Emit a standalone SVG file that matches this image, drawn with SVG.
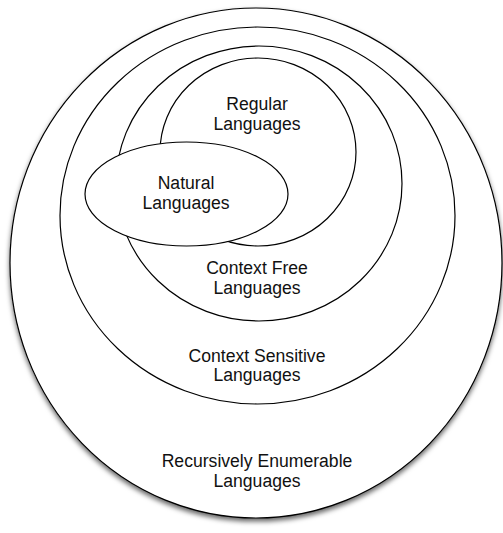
<svg xmlns="http://www.w3.org/2000/svg" width="503" height="533" viewBox="0 0 503 533">
<defs>
<filter id="sh" x="-10%" y="-10%" width="120%" height="120%">
<feDropShadow dx="0" dy="3" stdDeviation="2.5" flood-color="#000" flood-opacity="0.6"/>
</filter>
<style>
.e{fill:#fff;stroke:#000;stroke-width:1.2}
.t{font-family:"Liberation Sans",Arial,sans-serif;font-size:17.6px;fill:#111;text-anchor:middle}
</style>
</defs>
<rect width="503" height="533" fill="#fff"/>
<g id="recursively-enumerable">
<ellipse class="e" cx="256" cy="263" rx="246" ry="255" filter="url(#sh)"/>
<text class="t" x="257" y="467">Recursively Enumerable</text>
<text class="t" x="257" y="487">Languages</text>
</g>
<g id="context-sensitive">
<ellipse class="e" cx="257.5" cy="215.5" rx="197.5" ry="188.5"/>
<text class="t" x="257" y="362">Context Sensitive</text>
<text class="t" x="257" y="381">Languages</text>
</g>
<g id="context-free">
<ellipse class="e" cx="259" cy="183.5" rx="143" ry="137.5"/>
<text class="t" x="257" y="274">Context Free</text>
<text class="t" x="257" y="294">Languages</text>
</g>
<g id="regular">
<ellipse class="e" cx="258" cy="152" rx="98" ry="94"/>
<text class="t" x="257" y="110">Regular</text>
<text class="t" x="257" y="130">Languages</text>
</g>
<g id="natural">
<ellipse class="e" cx="186.5" cy="194" rx="101.5" ry="52"/>
<text class="t" x="186" y="189">Natural</text>
<text class="t" x="186" y="209">Languages</text>
</g>
<g id="connectors"/>
</svg>
